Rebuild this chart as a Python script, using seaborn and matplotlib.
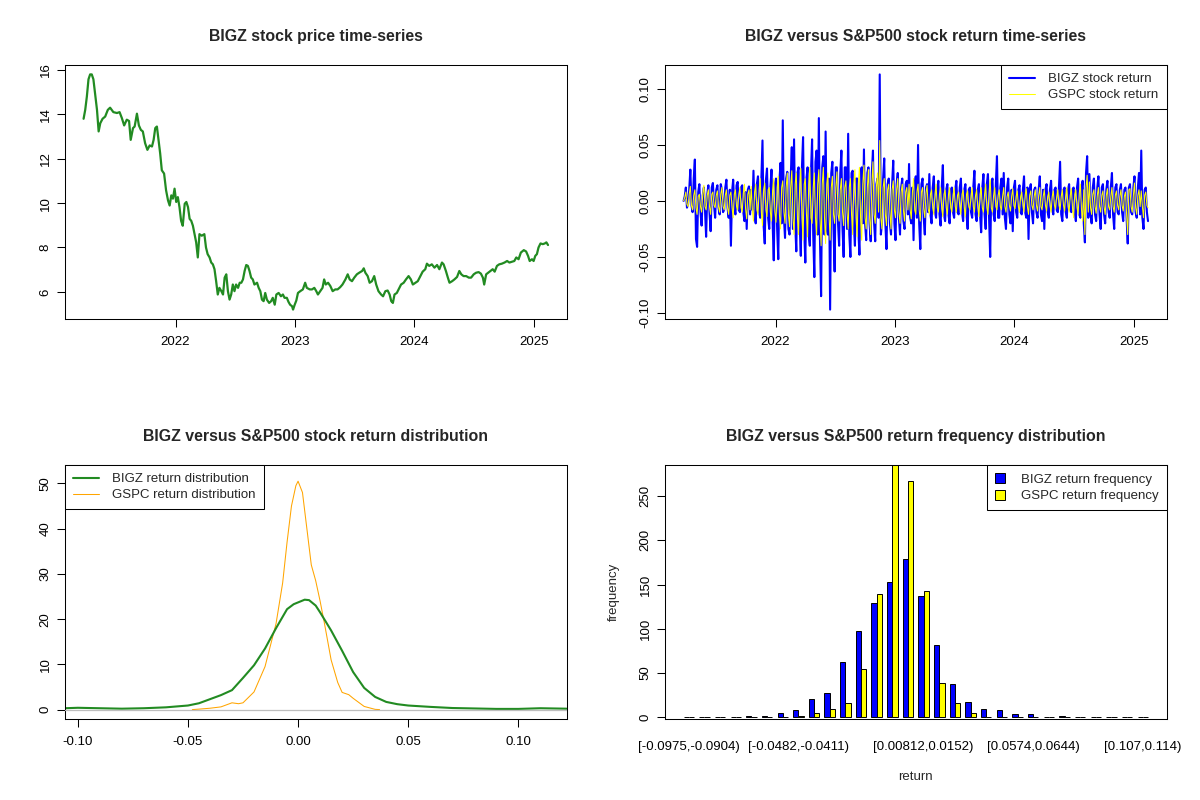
import numpy as np
import pandas as pd
import matplotlib
matplotlib.use("Agg")
import matplotlib.pyplot as plt
import matplotlib.dates as mdates
from matplotlib.lines import Line2D
from matplotlib.patches import Patch
import seaborn as sns

# ---------------- data ----------------
# BIGZ price: days since 2022-01-01 and closing price
price_day_offsets = [-281,-276,-271,-266,-261,-256,-251,-246,-240,-235,
    -230,-223,-215,-207,-200,-190,-179,-171,-164,-157,
    -149,-142,-137,-130,-125,-118,-112,-106,-100,-93,
    -86,-79,-72,-67,-62,-57,-52,-47,-42,-35,
    -29,-23,-18,-13,-8,-3,2,7,12,17,
    22,28,33,38,43,48,53,58,63,68,
    73,80,88,93,98,104,109,114,119,124,
    129,134,140,145,150,155,160,165,170,175,
    180,185,191,196,201,206,211,216,221,226,
    231,236,241,249,254,259,264,269,274,279,
    286,292,297,303,308,315,322,328,333,340,
    345,350,356,359,364,369,374,381,389,396,
    401,410,417,424,430,435,442,449,454,459,
    466,473,480,488,495,503,510,519,526,532,
    539,546,554,561,570,575,580,587,593,600,
    607,613,620,628,634,641,648,654,659,664,
    669,676,684,689,697,704,712,719,725,733,
    740,748,755,763,768,775,783,791,799,806,
    814,819,826,832,837,845,852,860,867,873,
    880,888,896,903,911,918,926,933,939,943,
    949,955,962,969,975,982,989,997,1005,1013,
    1020,1028,1035,1041,1048,1055,1064,1071,1077,1082,
    1089,1094,1099,1104,1109,1115,1122,1128,1133,1138]
price_values = [13.80,14.2,14.8,15.58,15.8,15.8,15.58,14.97,14.2,13.23,
    13.6,13.8,13.9,14.2,14.3,14.1,14.06,14.1,13.83,13.5,
    13.76,13.7,12.85,13.38,13.45,14.03,13.5,13.3,13.23,12.7,
    12.4,12.6,12.55,12.85,13.38,13.45,12.85,12.24,11.48,11.33,
    10.58,10.12,9.89,10.35,10.2,10.65,10.05,10.27,9.82,9.2,
    8.98,9.97,10.05,9.82,9.29,9.2,8.98,8.6,8.23,7.55,
    8.6,8.53,8.6,8.0,7.7,7.55,7.32,7.24,7.02,6.48,
    5.88,6.18,6.03,5.88,6.64,6.79,6.03,5.65,5.88,6.33,
    6.03,6.33,6.18,6.41,6.41,6.56,6.94,7.21,7.17,6.94,
    6.64,6.56,6.33,6.41,6.18,6.03,5.65,5.58,5.95,5.65,
    5.5,5.58,5.73,5.42,5.88,5.95,5.8,5.88,5.73,5.73,
    5.55,5.42,5.35,5.2,5.42,5.61,5.95,6.03,6.11,6.41,
    6.18,6.11,6.11,6.18,6.03,5.88,6.03,6.18,6.56,6.33,
    6.41,6.26,6.03,6.11,6.11,6.21,6.33,6.56,6.79,6.56,
    6.48,6.64,6.79,6.86,6.94,7.06,6.86,6.71,6.41,6.48,
    6.71,6.33,6.03,5.88,5.8,6.03,6.06,5.88,5.58,5.5,
    5.88,5.95,6.18,6.33,6.41,6.56,6.71,6.56,6.33,6.41,
    6.48,6.71,6.91,7.02,7.27,7.17,7.24,7.09,7.21,7.02,
    7.32,7.24,6.94,6.64,6.41,6.48,6.56,6.67,6.94,6.79,
    6.71,6.71,6.64,6.64,6.79,6.86,6.89,6.82,6.64,6.33,
    6.79,6.86,6.94,7.02,6.91,7.17,7.24,7.27,7.32,7.39,
    7.32,7.36,7.39,7.55,7.47,7.77,7.88,7.82,7.62,7.39,
    7.47,7.39,7.62,7.7,8.0,8.18,8.15,8.18,8.23,8.11]

# daily returns (read in time order)
bigz_returns = [
    0.0,0.004,0.012,-0.006,-0.003,0.010,0.028,-0.004,-0.010,0.020,0.037,-0.034,-0.041,0.008,0.015,-0.010,-0.022,0.005,0.012,-0.008,
    -0.032,0.006,0.014,-0.010,-0.027,0.012,0.016,-0.004,-0.015,0.010,0.014,-0.006,-0.012,0.015,0.010,-0.010,-0.008,0.012,0.019,-0.006,
    -0.015,0.010,-0.040,0.008,0.019,-0.006,-0.012,0.014,0.017,-0.008,-0.010,0.012,0.014,-0.010,-0.018,0.008,-0.025,0.010,0.013,-0.012,
    0.010,-0.008,0.027,-0.012,-0.020,0.015,0.022,-0.010,-0.015,0.020,0.054,-0.022,-0.038,0.018,0.029,-0.015,-0.025,0.012,0.028,-0.020,
    -0.053,0.015,0.020,-0.025,-0.052,0.018,0.034,-0.020,0.072,-0.015,-0.033,0.020,0.026,-0.025,-0.030,0.020,0.048,-0.025,0.055,-0.020,
    -0.045,0.025,0.030,-0.020,-0.049,0.030,0.057,-0.025,-0.055,0.020,0.030,-0.030,-0.040,0.025,0.055,-0.030,-0.068,0.035,0.045,-0.030,
    0.074,-0.035,-0.085,0.030,0.040,-0.030,0.062,-0.025,-0.030,0.020,-0.097,0.025,0.035,-0.025,-0.063,0.030,0.030,-0.020,-0.040,0.025,
    0.045,-0.025,-0.050,0.030,0.030,-0.025,0.060,-0.030,-0.050,0.025,0.027,-0.020,-0.040,0.020,0.020,-0.025,-0.048,0.025,0.030,-0.020,
    0.046,-0.020,-0.035,0.025,0.030,-0.020,-0.036,0.025,0.045,-0.020,-0.036,0.015,0.020,-0.015,0.113,-0.030,-0.020,0.020,0.038,-0.020,
    -0.043,0.015,0.020,-0.020,-0.030,0.015,0.036,-0.020,-0.035,0.015,0.025,-0.015,-0.030,0.012,0.020,-0.018,-0.025,0.015,0.018,-0.012,
    0.033,-0.015,-0.020,0.012,-0.035,0.015,0.022,-0.015,0.050,-0.020,-0.043,0.015,0.020,-0.015,-0.030,0.012,0.015,-0.010,0.024,-0.012,
    -0.020,0.012,0.022,-0.010,-0.015,0.010,0.018,-0.012,-0.022,0.012,0.032,-0.012,-0.018,0.010,0.015,-0.012,-0.020,0.010,0.012,-0.010,
    -0.015,0.010,0.018,-0.010,-0.012,0.012,0.020,-0.010,-0.018,0.010,0.015,-0.012,-0.025,0.010,0.012,-0.010,-0.015,0.012,0.027,-0.012,
    -0.018,0.010,0.015,-0.012,-0.028,0.012,0.024,-0.012,-0.025,0.015,0.024,-0.015,-0.050,0.015,0.020,-0.012,-0.018,0.015,0.040,-0.015,
    -0.015,0.012,0.020,-0.012,0.025,-0.015,-0.025,0.012,0.020,-0.012,-0.020,0.010,-0.027,0.012,0.018,-0.010,-0.015,0.010,0.014,-0.010,
    -0.012,0.010,0.022,-0.010,-0.015,0.012,-0.034,0.010,0.015,-0.010,-0.020,0.010,0.012,-0.010,-0.015,0.010,0.022,-0.012,-0.018,0.010,
    -0.025,0.010,0.015,-0.010,-0.015,0.010,0.018,-0.008,-0.012,0.010,0.012,-0.008,-0.010,0.012,0.035,-0.012,-0.018,0.010,0.012,-0.010,
    -0.015,0.010,0.015,-0.008,-0.010,0.010,0.012,-0.010,-0.018,0.012,0.020,-0.012,-0.015,0.010,0.018,-0.020,-0.037,0.025,0.040,-0.015,
    0.024,-0.012,-0.020,0.012,0.020,-0.012,-0.018,0.012,0.022,-0.012,-0.025,0.012,0.015,-0.012,-0.020,0.010,0.018,-0.010,-0.015,0.012,
    0.025,-0.012,-0.025,0.012,0.015,-0.010,-0.012,0.010,0.015,-0.010,-0.018,0.010,0.012,-0.015,-0.038,0.012,0.015,-0.010,-0.012,0.012,
    0.022,-0.010,-0.015,0.012,0.025,-0.012,0.045,-0.015,-0.025,0.010,0.012,-0.010,-0.018]
gspc_returns = [
    0.0,0.003,0.008,-0.003,-0.005,0.006,0.013,-0.004,-0.008,0.005,0.010,-0.006,-0.012,0.004,0.006,-0.005,-0.010,0.006,0.014,-0.005,
    -0.008,0.005,0.010,-0.005,-0.012,0.006,0.008,-0.004,-0.006,0.005,0.009,-0.005,-0.010,0.006,0.012,-0.005,-0.008,0.005,0.010,-0.006,
    -0.012,0.005,0.008,-0.006,-0.015,0.006,0.010,-0.005,-0.008,0.006,0.012,-0.006,-0.010,0.007,0.015,-0.007,-0.016,0.006,0.010,-0.008,
    0.013,-0.008,-0.018,0.008,0.015,-0.008,-0.012,0.010,0.020,-0.010,-0.022,0.010,0.016,-0.008,-0.014,0.010,0.012,-0.010,-0.018,0.010,
    0.020,-0.010,-0.019,0.012,0.022,-0.012,-0.025,0.012,0.018,-0.010,-0.020,0.012,0.025,-0.012,-0.023,0.012,0.027,-0.015,-0.030,0.015,
    0.025,-0.015,-0.030,0.015,0.029,-0.015,-0.035,0.015,0.020,-0.012,-0.032,0.015,0.030,-0.015,-0.020,0.012,0.025,-0.015,-0.030,0.015,
    0.028,-0.015,-0.040,0.015,0.030,-0.015,-0.038,0.015,0.025,-0.012,-0.035,0.012,0.022,-0.012,-0.020,0.012,0.026,-0.012,-0.018,0.010,
    0.020,-0.010,-0.022,0.012,0.018,-0.010,-0.025,0.012,0.020,-0.012,-0.030,0.015,0.028,-0.015,-0.032,0.015,0.030,-0.015,-0.035,0.015,
    0.032,-0.015,-0.025,0.012,0.028,-0.015,-0.030,0.015,0.035,-0.012,-0.020,0.012,0.025,-0.010,0.054,-0.015,-0.025,0.012,0.020,-0.012,
    -0.022,0.010,0.015,-0.010,-0.025,0.010,0.018,-0.008,-0.015,0.010,0.020,-0.010,-0.020,0.008,0.015,-0.008,-0.018,0.008,0.012,-0.008,
    0.015,-0.008,-0.016,0.008,0.020,-0.008,-0.012,0.008,0.015,-0.008,-0.018,0.008,0.012,-0.007,-0.015,0.007,0.014,-0.007,-0.012,0.006,
    0.010,-0.006,-0.012,0.006,0.015,-0.006,-0.010,0.006,0.012,-0.007,-0.014,0.006,0.010,-0.006,-0.012,0.006,0.012,-0.006,-0.010,0.005,
    0.012,-0.005,-0.010,0.005,0.008,-0.005,-0.012,0.006,0.010,-0.006,-0.014,0.006,0.009,-0.005,-0.008,0.005,0.012,-0.005,-0.010,0.005,
    0.010,-0.006,-0.014,0.006,0.012,-0.006,-0.010,0.006,0.015,-0.006,-0.012,0.008,0.019,-0.006,-0.010,0.005,0.012,-0.005,-0.008,0.005,
    0.010,-0.005,-0.008,0.004,0.012,-0.005,-0.010,0.004,0.008,-0.004,-0.009,0.004,0.011,-0.004,-0.007,0.004,0.009,-0.005,-0.010,0.004,
    0.008,-0.004,-0.010,0.005,0.011,-0.005,-0.012,0.005,0.009,-0.004,-0.008,0.004,0.010,-0.004,-0.009,0.005,0.012,-0.005,-0.008,0.004,
    0.010,-0.004,-0.009,0.004,0.008,-0.004,-0.010,0.004,0.009,-0.004,-0.007,0.004,0.010,-0.004,-0.008,0.004,0.010,-0.004,-0.009,0.005,
    0.012,-0.005,-0.010,0.005,0.011,-0.006,-0.015,0.006,0.010,-0.006,-0.012,0.007,0.015,-0.008,-0.018,0.010,-0.030,0.012,0.023,-0.010,
    0.017,-0.006,-0.012,0.006,0.010,-0.005,-0.011,0.005,0.012,-0.005,-0.010,0.005,0.009,-0.005,-0.012,0.005,0.011,-0.005,-0.008,0.004,
    0.012,-0.005,-0.010,0.005,0.009,-0.004,-0.008,0.004,0.010,-0.004,-0.009,0.004,0.008,-0.012,-0.030,0.010,0.011,-0.005,-0.010,0.005,
    0.016,-0.006,-0.012,0.005,0.010,-0.005,0.009,-0.005,-0.015,0.005,0.008,-0.004,-0.006]

# kernel density curves
bigz_dens_x = [-0.1058,-0.10,-0.09,-0.08,-0.07,-0.06,-0.05,-0.045,-0.04,-0.035,
    -0.03,-0.025,-0.02,-0.015,-0.01,-0.005,-0.002,0.0,0.003,0.005,
    0.008,0.01,0.015,0.02,0.025,0.03,0.035,0.04,0.045,0.05,
    0.06,0.07,0.08,0.09,0.10,0.11,0.1219]
bigz_dens_y = [0.3,0.4,0.3,0.2,0.3,0.5,0.9,1.4,2.3,3.2,
    4.3,7.0,9.8,13.5,18.0,22.2,23.3,23.7,24.3,24.2,
    23.0,21.5,17.5,13.0,8.3,4.8,2.8,1.7,1.2,0.9,
    0.6,0.35,0.25,0.15,0.15,0.3,0.2]
gspc_dens_x = [-0.048,-0.045,-0.04,-0.035,-0.03,-0.027,-0.025,-0.02,-0.015,-0.01,
    -0.007,-0.005,-0.003,-0.001,0.0,0.002,0.004,0.006,0.008,0.01,
    0.012,0.015,0.018,0.02,0.023,0.025,0.03,0.035,0.037]
gspc_dens_y = [0.0,0.1,0.3,0.6,1.5,1.3,1.5,3.9,9.5,19.0,
    28.0,37.0,45.0,49.5,50.5,48.0,40.0,32.0,28.5,24.0,
    19.0,11.0,6.0,3.8,3.3,2.5,0.7,0.05,0.0]

# return frequency (30 equal-width bins)
bin_ids = list(range(30))
bigz_counts = [1,1,0,0,2,2,5,8,21,28,62,97,129,153,179,137,82,38,17,9,8,4,4,0,2,0,0,0,0,1]
gspc_counts = [0,0,0,0,0,0,0,2,5,9,16,55,139,300,267,143,39,16,5,0,0,1,0,0,0,0,0,0,0,0]
bin_tick_ids = [0, 7, 15, 22, 29]
bin_tick_labels = ["[-0.0975,-0.0904)", "[-0.0482,-0.0411)", "[0.00812,0.0152)",
                   "[0.0574,0.0644)", "[0.107,0.114)"]

# ---------------- style ----------------
sns.set_theme(style="ticks")
plt.rcParams['font.family'] = ['Liberation Sans', 'DejaVu Sans']
plt.rcParams['axes.unicode_minus'] = False

FS = 9.5
TFS = 11.4
GREEN = "#228B22"

fig = plt.figure(figsize=(12, 8), dpi=100)
W, H = 501.6 / 1200, 254 / 800
ax_tl = fig.add_axes([65 / 1200, 1 - 319 / 800, W, H])
ax_tr = fig.add_axes([665 / 1200, 1 - 319 / 800, W, H])
ax_bl = fig.add_axes([65 / 1200, 1 - 719 / 800, W, H])
ax_br = fig.add_axes([665 / 1200, 1 - 719 / 800, W, H])


def style(ax, title):
    for s in ax.spines.values():
        s.set_visible(True)
        s.set_color("black")
        s.set_linewidth(0.75)
    ax.tick_params(axis='both', direction='out', length=5.5, width=0.75,
                   labelsize=FS, pad=4, colors='black')
    ax.tick_params(axis='x', pad=6.5)
    for lab in ax.get_yticklabels():
        lab.set_rotation(90)
        lab.set_va('center')
    ax.set_title(title, fontsize=TFS, fontweight='bold', pad=17)
    ax.set_xlabel("")
    ax.set_ylabel("")
    ax.grid(False)


def r_legend(ax, handles, labels, loc, **kw):
    leg = ax.legend(handles, labels, loc=loc, borderaxespad=0, fancybox=False,
                    framealpha=1, edgecolor="black", fontsize=FS, **kw)
    leg.get_frame().set_linewidth(0.75)
    return leg


# ---- top-left: price ----
base = pd.Timestamp("2022-01-01")
price_dates = base + pd.to_timedelta(price_day_offsets, unit="D")
sns.lineplot(x=price_dates, y=price_values, ax=ax_tl, color=GREEN, linewidth=1.6,
             estimator=None, sort=False)
ax_tl.margins(x=0.04, y=0.04)
ax_tl.set_yticks([6, 8, 10, 12, 14, 16])
ax_tl.xaxis.set_major_locator(mdates.YearLocator())
ax_tl.xaxis.set_major_formatter(mdates.DateFormatter("%Y"))
style(ax_tl, "BIGZ stock price time-series")

# ---- top-right: returns ----
bigz_dates = pd.date_range(price_dates.min(), price_dates.max(), periods=len(bigz_returns))
gspc_dates = pd.date_range(price_dates.min(), price_dates.max(), periods=len(gspc_returns))
sns.lineplot(x=bigz_dates, y=bigz_returns, ax=ax_tr, color="#0000FF", linewidth=1.5,
             estimator=None, sort=False)
sns.lineplot(x=gspc_dates, y=gspc_returns, ax=ax_tr, color="#FFFF00", linewidth=0.75,
             estimator=None, sort=False)
ax_tr.margins(x=0.04, y=0.04)
ax_tr.set_yticks([-0.10, -0.05, 0.0, 0.05, 0.10])
ax_tr.set_yticklabels(["-0.10", "-0.05", "0.00", "0.05", "0.10"])
ax_tr.xaxis.set_major_locator(mdates.YearLocator())
ax_tr.xaxis.set_major_formatter(mdates.DateFormatter("%Y"))
style(ax_tr, "BIGZ versus S&P500 stock return time-series")
r_legend(ax_tr,
         [Line2D([], [], color="#0000FF", lw=1.5), Line2D([], [], color="#FFFF00", lw=0.75)],
         ["BIGZ stock return", "GSPC stock return"], "upper right",
         handlelength=2.0, handletextpad=1.0, borderpad=0.6, labelspacing=0.3)

# ---- bottom-left: densities ----
sns.lineplot(x=gspc_dens_x, y=gspc_dens_y, ax=ax_bl, color="#FFA500", linewidth=0.75,
             estimator=None, sort=False)
ax_bl.axhline(0, color="#BEBEBE", linewidth=0.9, zorder=3)
sns.lineplot(x=bigz_dens_x, y=bigz_dens_y, ax=ax_bl, color=GREEN, linewidth=1.5,
             estimator=None, sort=False)
ax_bl.set_xlim(-0.1058, 0.1219)
ax_bl.set_ylim(-2.08, 54.08)
ax_bl.set_xticks([-0.10, -0.05, 0.0, 0.05, 0.10])
ax_bl.set_xticklabels(["-0.10", "-0.05", "0.00", "0.05", "0.10"])
ax_bl.set_yticks([0, 10, 20, 30, 40, 50])
style(ax_bl, "BIGZ versus S&P500 stock return distribution")
r_legend(ax_bl,
         [Line2D([], [], color=GREEN, lw=1.5), Line2D([], [], color="#FFA500", lw=0.75)],
         ["BIGZ return distribution", "GSPC return distribution"], "upper left",
         handlelength=2.0, handletextpad=1.0, borderpad=0.6, labelspacing=0.3)

# ---- bottom-right: frequency bars ----
hist_df = pd.DataFrame({
    "bin": bin_ids * 2,
    "count": bigz_counts + gspc_counts,
    "series": ["BIGZ"] * len(bin_ids) + ["GSPC"] * len(bin_ids),
})
sns.barplot(data=hist_df, x="bin", y="count", hue="series", hue_order=["BIGZ", "GSPC"],
            palette=["#0000FF", "#FFFF00"], saturation=1, width=2 / 3,
            edgecolor="black", linewidth=0.7, ax=ax_br, legend=False, errorbar=None)
ax_br.set_xlim(-1.52, 30.52)
ax_br.set_ylim(-1.8, 285)
ax_br.set_yticks([0, 50, 100, 150, 200, 250])
style(ax_br, "BIGZ versus S&P500 return frequency distribution")
ax_br.set_xticks(bin_tick_ids)
ax_br.set_xticklabels(bin_tick_labels)
ax_br.tick_params(axis='x', length=0, pad=16)
ax_br.set_xlabel("return", fontsize=FS)
ax_br.set_ylabel("frequency", fontsize=FS)
ax_br.xaxis.set_label_coords(0.5, -0.203)
ax_br.yaxis.set_label_coords(-0.090, 0.5)
r_legend(ax_br,
         [Patch(facecolor="#0000FF", edgecolor="black", linewidth=0.7),
          Patch(facecolor="#FFFF00", edgecolor="black", linewidth=0.7)],
         ["BIGZ return frequency", "GSPC return frequency"], "upper right",
         handlelength=0.8, handleheight=0.8, handletextpad=1.2, borderpad=0.6,
         labelspacing=0.3)

fig.savefig("out.png", dpi=100, facecolor="white")
